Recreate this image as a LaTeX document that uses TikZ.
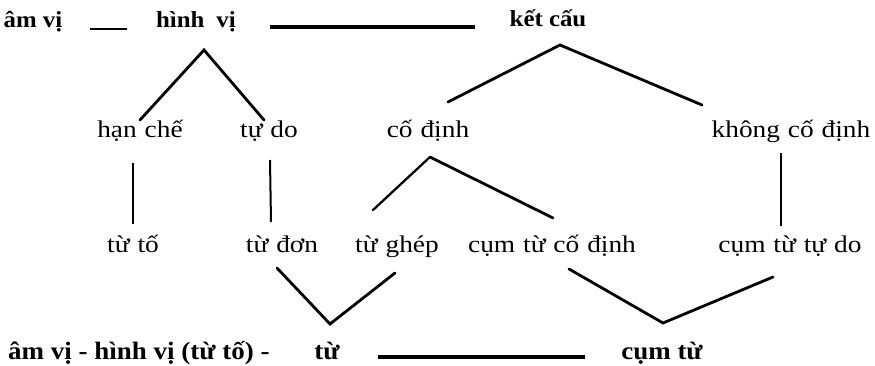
\documentclass[tikz,border=0pt]{standalone}
\usepackage{fontspec}
\setmainfont[FakeStretch=1.08]{Liberation Serif}
\newfontfamily\regfont[FakeStretch=1.14]{Liberation Serif}
\newcommand\myregstyle{\fontsize{24}{28}\regfont\spaceskip 0.33em\relax}
\begin{document}
\begin{tikzpicture}[x=1pt,y=-1pt,
  lbl/.style={anchor=base,inner sep=0pt,font=\myregstyle},
  blbl/.style={anchor=base,inner sep=0pt,font=\fontsize{23}{28}\selectfont\bfseries},
  bblbl/.style={anchor=base,inner sep=0pt,font=\fontsize{25}{30}\selectfont\bfseries},
  tree/.style={line width=2.8pt,line cap=round},
  thin/.style={line width=2pt},
  hline/.style={line width=3.2pt}]
\useasboundingbox (0,0) rectangle (875,366);
% top row
\node[blbl] (amvi) at (33,28) {âm vị};
\node[blbl] (hinhvi) at (196,28) {hình\hspace{0.25em} vị};
\node[blbl] (ketcau) at (548,27) {kết cấu};
% row 2
\node[lbl] (hanche) at (140,138) {hạn chế};
\node[lbl] (tudo) at (269,138) {tự do};
\node[lbl] (codinh) at (428,138) {cố định};
\node[lbl] (khong) at (791,138) {không cố định};
% row 3
\node[lbl] (tuto) at (133,252) {từ tố};
\node[lbl] (tudon) at (282,252) {từ đơn};
\node[lbl] (tughep) at (397,252) {từ ghép};
\node[lbl] (cumcd) at (552,252) {cụm từ cố định};
\node[lbl] (cumtd) at (790,252) {cụm từ tự do};
% bottom
\node[bblbl,anchor=base west] (chain) at (8,359) {âm vị - hình vị (từ tố) -};
\node[bblbl] (tu) at (327,359) {từ};
\node[bblbl] (cumtu) at (662,359) {cụm từ};
% connector end points
\coordinate (s1) at (90,29); \coordinate (s2) at (127,29);
\coordinate (l1) at (270,27); \coordinate (l2) at (475,27);
\coordinate (hvA) at (204,50); \coordinate (hvL) at (140,120); \coordinate (hvR) at (264,120);
\coordinate (kcA) at (560,45); \coordinate (kcL) at (448,102); \coordinate (kcR) at (702,105);
\coordinate (v1a) at (133,163); \coordinate (v1b) at (133,224);
\coordinate (v2a) at (270,160); \coordinate (v2b) at (271,222);
\coordinate (cdA) at (430,157); \coordinate (cdL) at (373,210); \coordinate (cdR) at (553,218);
\coordinate (v3a) at (781,153); \coordinate (v3b) at (781,226);
\coordinate (tuL) at (277,268); \coordinate (tuA) at (330,324); \coordinate (tuR) at (395,273);
\coordinate (ctL) at (569,269); \coordinate (ctA) at (663,323); \coordinate (ctR) at (773,277);
\coordinate (b1) at (378,357); \coordinate (b2) at (585,357);
% connectors
\draw[line width=2pt] (s1) -- (s2);
\draw[hline] (l1) -- (l2);
\draw[tree] (hvL) -- (hvA) -- (hvR);
\draw[tree] (kcL) -- (kcA) -- (kcR);
\draw[thin] (v1a) -- (v1b);
\draw[thin] (v2a) -- (v2b);
\draw[thin] (v3a) -- (v3b);
\draw[line width=2.3pt,line cap=round] (cdL) -- (cdA);
\draw[tree] (cdA) -- (cdR);
\draw[tree] (tuL) -- (tuA) -- (tuR);
\draw[tree] (ctL) -- (ctA) -- (ctR);
\draw[hline] (b1) -- (b2);
\end{tikzpicture}
\end{document}
